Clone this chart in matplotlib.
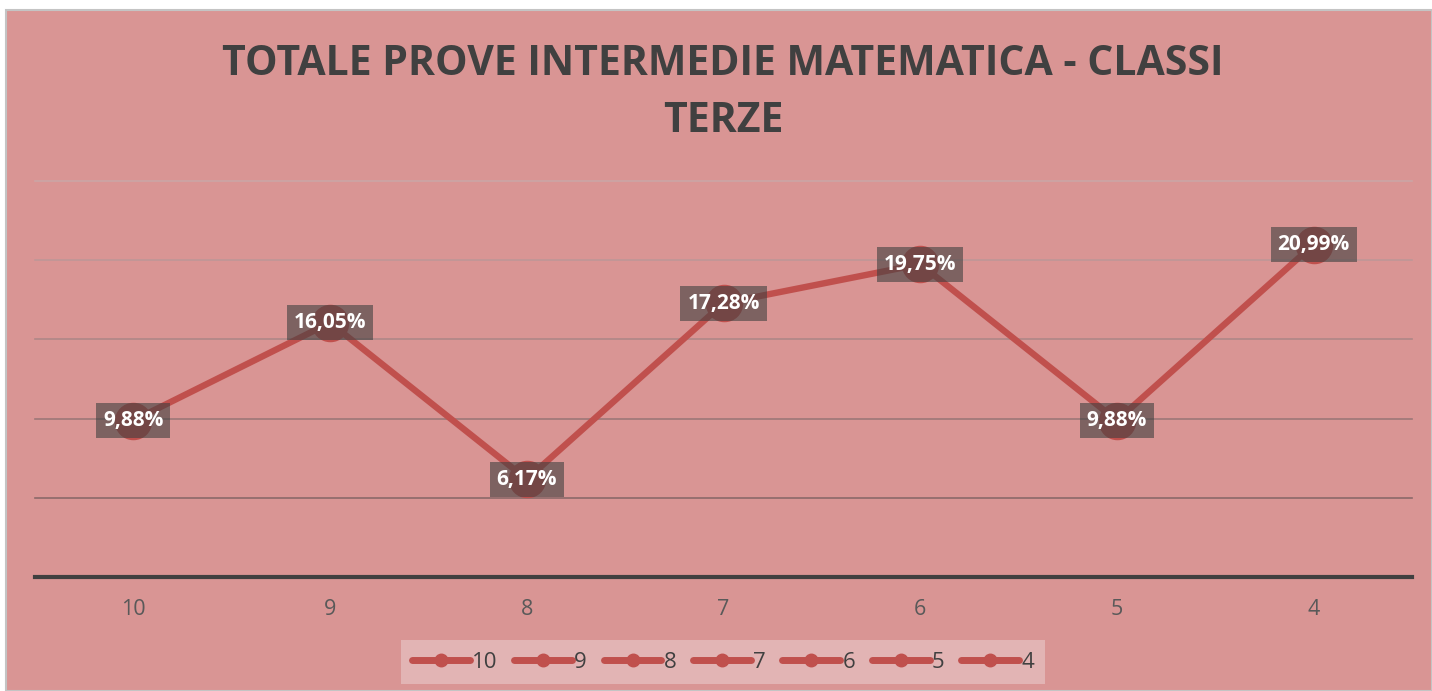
import matplotlib
matplotlib.use('Agg')
import matplotlib.pyplot as plt
from matplotlib.patches import Rectangle
from matplotlib.lines import Line2D

plt.rcParams['font.family'] = ['Open Sans', 'DejaVu Sans']

categories = ['10', '9', '8', '7', '6', '5', '4']
values = [9.88, 16.05, 6.17, 17.28, 19.75, 9.88, 20.99]
labels = ['9,88%', '16,05%', '6,17%', '17,28%', '19,75%', '9,88%', '20,99%']
grid_levels = [5, 10, 15, 20, 25]
grid_colors = ['#8B6969', '#9C7878', '#AE8787', '#BE9797', '#CBA5A5']

W, H = 1432, 691
fig = plt.figure(figsize=(W / 100, H / 100), dpi=100)
fig.patch.set_facecolor('white')

# chart background
bg = Rectangle((6 / W, 0), 1 - 6 / W, (H - 10) / H, transform=fig.transFigure,
               facecolor='#D99594', edgecolor='#C4C4C4', linewidth=1.5, zorder=-10)
fig.patches.append(bg)

ax = fig.add_axes([35 / W, (H - 577) / H, (1412 - 35) / W, (577 - 181) / H])
ax.set_zorder(2)
ax.set_facecolor('none')
ax.set_xlim(-0.5, len(categories) - 0.5)
ax.set_ylim(0, 25)

for lvl, c in zip(grid_levels, grid_colors):
    ax.axhline(lvl, color=c, linewidth=1.2, zorder=1, clip_on=False)
ax.axhline(0, color='#404040', linewidth=3, zorder=2, clip_on=False)

x = list(range(len(categories)))
ax.plot(x, values, color='#C0504D', linewidth=4.6, marker='o', markersize=26,
        solid_capstyle='round', zorder=3, clip_on=False)

for xi, v, t in zip(x, values, labels):
    ax.text(xi, v, t, ha='center', va='center', color='white', fontsize=15,
            fontweight='bold', zorder=5,
            bbox=dict(boxstyle='square,pad=0.33', facecolor='#404040',
                      edgecolor='none', alpha=0.6))

for s in ax.spines.values():
    s.set_visible(False)
ax.set_yticks([])
ax.set_xticks(x)
ax.set_xticklabels(categories, fontsize=15.5, color='#595959')
ax.tick_params(axis='x', length=0, pad=16)

fig.text(723 / W, 1 - 93 / H, 'TOTALE PROVE INTERMEDIE MATEMATICA - CLASSI\nTERZE',
         ha='center', va='center', fontsize=29.5, fontweight='bold',
         color='#404040', linespacing=1.5)

handles = [Line2D([], [], color='#C0504D', linewidth=5, marker='o', markersize=9,
                  solid_capstyle='round') for _ in categories]
leg = fig.legend(handles, categories, loc='center', bbox_to_anchor=(723 / W, 1 - 662 / H),
                 ncol=len(categories), frameon=True, fontsize=16, handlelength=2.6,
                 handletextpad=0.1, columnspacing=0.75, borderpad=0.5,
                 fancybox=False)
leg.get_frame().set_facecolor('#E2B4B4')
leg.get_frame().set_edgecolor('none')
leg.get_frame().set_alpha(1)
for t in leg.get_texts():
    t.set_color('#404040')

fig.savefig('out.png', dpi=100)
